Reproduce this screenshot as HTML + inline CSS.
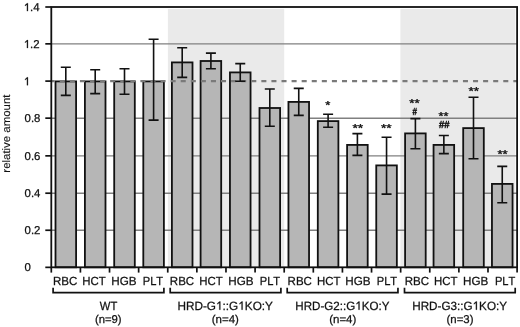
<!DOCTYPE html>
<html><head><meta charset="utf-8"><style>
html,body{margin:0;padding:0;background:#fff;}
svg{display:block;will-change:transform;}
.t{font-family:"Liberation Sans",sans-serif;font-size:11px;fill:#111111;stroke:#111111;stroke-width:0.25px;}
.m{stroke:#111111;stroke-width:0.35px;}
.h{stroke:#111111;stroke-width:0.5px;}
.yt{stroke-width:0.12px;}
.one{fill:#111111;stroke:#111111;stroke-width:0.25px;vector-effect:non-scaling-stroke;}
.o{fill-opacity:0;stroke-opacity:0;}
text{font-kerning:none;text-rendering:geometricPrecision;}
</style></head><body>
<svg width="520" height="327" viewBox="0 0 520 327">
<rect x="0" y="0" width="520" height="327" fill="#fff"/>
<rect x="167.90" y="8.9" width="116.30" height="258.40" fill="#eaeaea"/>
<rect x="400.40" y="8.9" width="115.00" height="258.40" fill="#eaeaea"/>
<line x1="51.30" x2="517.10" y1="230.25" y2="230.25" stroke="#808080" stroke-width="1.45"/>
<line x1="51.30" x2="517.10" y1="193.20" y2="193.20" stroke="#808080" stroke-width="1.45"/>
<line x1="51.30" x2="517.10" y1="155.85" y2="155.85" stroke="#808080" stroke-width="1.45"/>
<line x1="51.30" x2="517.10" y1="118.15" y2="118.15" stroke="#808080" stroke-width="1.45"/>
<line x1="51.30" x2="517.10" y1="43.85" y2="43.85" stroke="#808080" stroke-width="1.45"/>
<rect x="55.50" y="81.40" width="20.60" height="185.90" fill="#b6b6b6" stroke="#111111" stroke-width="1.8"/>
<rect x="84.90" y="81.40" width="20.60" height="185.90" fill="#b6b6b6" stroke="#111111" stroke-width="1.8"/>
<rect x="114.20" y="81.40" width="20.60" height="185.90" fill="#b6b6b6" stroke="#111111" stroke-width="1.8"/>
<rect x="143.30" y="81.40" width="20.60" height="185.90" fill="#b6b6b6" stroke="#111111" stroke-width="1.8"/>
<rect x="171.90" y="62.40" width="20.60" height="204.90" fill="#b6b6b6" stroke="#111111" stroke-width="1.8"/>
<rect x="200.60" y="61.00" width="20.60" height="206.30" fill="#b6b6b6" stroke="#111111" stroke-width="1.8"/>
<rect x="229.95" y="72.40" width="20.60" height="194.90" fill="#b6b6b6" stroke="#111111" stroke-width="1.8"/>
<rect x="259.50" y="108.00" width="20.60" height="159.30" fill="#b6b6b6" stroke="#111111" stroke-width="1.8"/>
<rect x="288.45" y="101.90" width="20.60" height="165.40" fill="#b6b6b6" stroke="#111111" stroke-width="1.8"/>
<rect x="317.80" y="121.10" width="20.60" height="146.20" fill="#b6b6b6" stroke="#111111" stroke-width="1.8"/>
<rect x="347.10" y="144.90" width="20.60" height="122.40" fill="#b6b6b6" stroke="#111111" stroke-width="1.8"/>
<rect x="376.25" y="165.40" width="20.60" height="101.90" fill="#b6b6b6" stroke="#111111" stroke-width="1.8"/>
<rect x="405.10" y="133.40" width="20.60" height="133.90" fill="#b6b6b6" stroke="#111111" stroke-width="1.8"/>
<rect x="433.55" y="144.90" width="20.60" height="122.40" fill="#b6b6b6" stroke="#111111" stroke-width="1.8"/>
<rect x="463.20" y="128.10" width="20.60" height="139.20" fill="#b6b6b6" stroke="#111111" stroke-width="1.8"/>
<rect x="491.95" y="183.90" width="20.60" height="83.40" fill="#b6b6b6" stroke="#111111" stroke-width="1.8"/>
<line x1="51.30" x2="517.10" y1="81.10" y2="81.10" stroke="#7a7a7a" stroke-width="2.3" stroke-dasharray="5.04 5.04" stroke-dashoffset="1.64"/>
<path d="M65.80 67.30V95.40M60.80 67.30H70.80M60.80 95.40H70.80" stroke="#111111" stroke-width="1.6" fill="none"/>
<path d="M95.20 69.70V93.60M90.20 69.70H100.20M90.20 93.60H100.20" stroke="#111111" stroke-width="1.6" fill="none"/>
<path d="M124.50 68.80V94.20M119.50 68.80H129.50M119.50 94.20H129.50" stroke="#111111" stroke-width="1.6" fill="none"/>
<path d="M153.60 39.20V120.10M148.60 39.20H158.60M148.60 120.10H158.60" stroke="#111111" stroke-width="1.6" fill="none"/>
<path d="M182.20 47.80V77.40M177.20 47.80H187.20M177.20 77.40H187.20" stroke="#111111" stroke-width="1.6" fill="none"/>
<path d="M210.90 53.10V68.80M205.90 53.10H215.90M205.90 68.80H215.90" stroke="#111111" stroke-width="1.6" fill="none"/>
<path d="M240.25 63.60V81.30M235.25 63.60H245.25M235.25 81.30H245.25" stroke="#111111" stroke-width="1.6" fill="none"/>
<path d="M269.80 89.00V126.30M264.80 89.00H274.80M264.80 126.30H274.80" stroke="#111111" stroke-width="1.6" fill="none"/>
<path d="M298.75 88.40V115.40M293.75 88.40H303.75M293.75 115.40H303.75" stroke="#111111" stroke-width="1.6" fill="none"/>
<path d="M328.10 114.30V127.20M323.10 114.30H333.10M323.10 127.20H333.10" stroke="#111111" stroke-width="1.6" fill="none"/>
<path d="M357.40 133.60V155.40M352.40 133.60H362.40M352.40 155.40H362.40" stroke="#111111" stroke-width="1.6" fill="none"/>
<path d="M386.55 137.30V194.10M381.55 137.30H391.55M381.55 194.10H391.55" stroke="#111111" stroke-width="1.6" fill="none"/>
<path d="M415.40 118.60V148.80M410.40 118.60H420.40M410.40 148.80H420.40" stroke="#111111" stroke-width="1.6" fill="none"/>
<path d="M443.85 135.50V153.60M438.85 135.50H448.85M438.85 153.60H448.85" stroke="#111111" stroke-width="1.6" fill="none"/>
<path d="M473.50 97.30V158.80M468.50 97.30H478.50M468.50 158.80H478.50" stroke="#111111" stroke-width="1.6" fill="none"/>
<path d="M502.25 166.40V202.70M497.25 166.40H507.25M497.25 202.70H507.25" stroke="#111111" stroke-width="1.6" fill="none"/>
<rect x="51.30" y="7.00" width="465.80" height="260.30" fill="none" stroke="#111111" stroke-width="1.8"/>
<line x1="45.3" x2="51.30" y1="267.35" y2="267.35" stroke="#111111" stroke-width="1.7"/>
<line x1="45.3" x2="51.30" y1="230.25" y2="230.25" stroke="#111111" stroke-width="1.7"/>
<line x1="45.3" x2="51.30" y1="193.20" y2="193.20" stroke="#111111" stroke-width="1.7"/>
<line x1="45.3" x2="51.30" y1="155.85" y2="155.85" stroke="#111111" stroke-width="1.7"/>
<line x1="45.3" x2="51.30" y1="118.15" y2="118.15" stroke="#111111" stroke-width="1.7"/>
<line x1="45.3" x2="51.30" y1="81.10" y2="81.10" stroke="#111111" stroke-width="1.7"/>
<line x1="45.3" x2="51.30" y1="43.85" y2="43.85" stroke="#111111" stroke-width="1.7"/>
<line x1="45.3" x2="51.30" y1="7.00" y2="7.00" stroke="#111111" stroke-width="1.7"/>
<line x1="51.30" x2="51.30" y1="267.30" y2="272.6" stroke="#111111" stroke-width="1.7"/>
<line x1="80.41" x2="80.41" y1="267.30" y2="272.6" stroke="#111111" stroke-width="1.7"/>
<line x1="109.53" x2="109.53" y1="267.30" y2="272.6" stroke="#111111" stroke-width="1.7"/>
<line x1="138.64" x2="138.64" y1="267.30" y2="272.6" stroke="#111111" stroke-width="1.7"/>
<line x1="167.75" x2="167.75" y1="267.30" y2="272.6" stroke="#111111" stroke-width="1.7"/>
<line x1="196.86" x2="196.86" y1="267.30" y2="272.6" stroke="#111111" stroke-width="1.7"/>
<line x1="225.98" x2="225.98" y1="267.30" y2="272.6" stroke="#111111" stroke-width="1.7"/>
<line x1="255.09" x2="255.09" y1="267.30" y2="272.6" stroke="#111111" stroke-width="1.7"/>
<line x1="284.20" x2="284.20" y1="267.30" y2="272.6" stroke="#111111" stroke-width="1.7"/>
<line x1="313.31" x2="313.31" y1="267.30" y2="272.6" stroke="#111111" stroke-width="1.7"/>
<line x1="342.43" x2="342.43" y1="267.30" y2="272.6" stroke="#111111" stroke-width="1.7"/>
<line x1="371.54" x2="371.54" y1="267.30" y2="272.6" stroke="#111111" stroke-width="1.7"/>
<line x1="400.65" x2="400.65" y1="267.30" y2="272.6" stroke="#111111" stroke-width="1.7"/>
<line x1="429.76" x2="429.76" y1="267.30" y2="272.6" stroke="#111111" stroke-width="1.7"/>
<line x1="458.88" x2="458.88" y1="267.30" y2="272.6" stroke="#111111" stroke-width="1.7"/>
<line x1="487.99" x2="487.99" y1="267.30" y2="272.6" stroke="#111111" stroke-width="1.7"/>
<line x1="517.10" x2="517.10" y1="267.30" y2="272.6" stroke="#111111" stroke-width="1.7"/>
<text class="t" transform="translate(24.55,271.47) scale(1.0000,1)" style="font-size:11.4px">0</text>
<text class="t" transform="translate(24.55,234.37) scale(1.0000,1)" style="font-size:11.4px">0.2</text>
<text class="t" transform="translate(24.55,197.32) scale(1.0000,1)" style="font-size:11.4px">0.4</text>
<text class="t" transform="translate(24.55,159.97) scale(1.0000,1)" style="font-size:11.4px">0.6</text>
<text class="t" transform="translate(24.55,122.27) scale(1.0000,1)" style="font-size:11.4px">0.8</text>
<text class="t" transform="translate(23.76,85.22) scale(1.0000,1)" style="font-size:11.4px"><tspan class="o">1</tspan></text><path class="one" transform="translate(23.76,85.22) scale(1.0000,1) translate(0.000,0) scale(0.00557,-0.00557)" d="M750 0H570V1140L222 920V1090L600 1409H750Z"/>
<text class="t" transform="translate(23.76,47.97) scale(1.0000,1)" style="font-size:11.4px"><tspan class="o">1</tspan>.2</text><path class="one" transform="translate(23.76,47.97) scale(1.0000,1) translate(0.000,0) scale(0.00557,-0.00557)" d="M750 0H570V1140L222 920V1090L600 1409H750Z"/>
<text class="t" transform="translate(23.76,11.12) scale(1.0000,1)" style="font-size:11.4px"><tspan class="o">1</tspan>.4</text><path class="one" transform="translate(23.76,11.12) scale(1.0000,1) translate(0.000,0) scale(0.00557,-0.00557)" d="M750 0H570V1140L222 920V1090L600 1409H750Z"/>
<text class="t yt" transform="translate(9.80,172.66) rotate(-90) scale(1.0486,1)" style="font-size:10.9px">relative amount</text>
<text class="t" transform="translate(53.00,285.30) scale(0.9789,1)" style="font-size:11.8px">RBC</text>
<text class="t" transform="translate(82.21,285.30) scale(0.9690,1)" style="font-size:11.8px">HCT</text>
<text class="t" transform="translate(111.24,285.30) scale(0.9883,1)" style="font-size:11.8px">HGB</text>
<text class="t" transform="translate(142.74,285.30) scale(0.9411,1)" style="font-size:11.8px">PLT</text>
<text class="t" transform="translate(169.80,285.30) scale(0.9789,1)" style="font-size:11.8px">RBC</text>
<text class="t" transform="translate(199.16,285.30) scale(0.9690,1)" style="font-size:11.8px">HCT</text>
<text class="t" transform="translate(228.29,285.30) scale(0.9883,1)" style="font-size:11.8px">HGB</text>
<text class="t" transform="translate(259.74,285.30) scale(0.9411,1)" style="font-size:11.8px">PLT</text>
<text class="t" transform="translate(287.55,285.30) scale(0.9789,1)" style="font-size:11.8px">RBC</text>
<text class="t" transform="translate(317.01,285.30) scale(0.9690,1)" style="font-size:11.8px">HCT</text>
<text class="t" transform="translate(345.29,285.30) scale(0.9883,1)" style="font-size:11.8px">HGB</text>
<text class="t" transform="translate(376.74,285.30) scale(0.9411,1)" style="font-size:11.8px">PLT</text>
<text class="t" transform="translate(404.75,285.30) scale(0.9789,1)" style="font-size:11.8px">RBC</text>
<text class="t" transform="translate(434.01,285.30) scale(0.9690,1)" style="font-size:11.8px">HCT</text>
<text class="t" transform="translate(463.09,285.30) scale(0.9883,1)" style="font-size:11.8px">HGB</text>
<text class="t" transform="translate(494.94,285.30) scale(0.9411,1)" style="font-size:11.8px">PLT</text>
<path d="M53.10 287.8V292.6H163.90V287.8" stroke="#111111" stroke-width="1.7" fill="none"/>
<path d="M170.20 287.8V292.6H280.90V287.8" stroke="#111111" stroke-width="1.7" fill="none"/>
<path d="M287.20 287.8V292.6H397.95V287.8" stroke="#111111" stroke-width="1.7" fill="none"/>
<path d="M404.50 287.8V292.6H515.20V287.8" stroke="#111111" stroke-width="1.7" fill="none"/>
<text class="t" transform="translate(99.85,309.70) scale(0.9463,1)" style="font-size:11.9px">WT</text>
<text class="t" transform="translate(177.48,309.70) scale(0.9889,1)" style="font-size:11.9px">HRD-G<tspan class="o">1</tspan>::G<tspan class="o">1</tspan>KO:Y</text><path class="one" transform="translate(177.48,309.70) scale(0.9889,1) translate(39.000,0) scale(0.00581,-0.00581)" d="M750 0H570V1140L222 920V1090L600 1409H750Z"/><path class="one" transform="translate(177.48,309.70) scale(0.9889,1) translate(61.487,0) scale(0.00581,-0.00581)" d="M750 0H570V1140L222 920V1090L600 1409H750Z"/>
<text class="t" transform="translate(295.35,309.70) scale(0.9748,1)" style="font-size:11.9px">HRD-G2::G<tspan class="o">1</tspan>KO:Y</text><path class="one" transform="translate(295.35,309.70) scale(0.9748,1) translate(61.487,0) scale(0.00581,-0.00581)" d="M750 0H570V1140L222 920V1090L600 1409H750Z"/>
<text class="t" transform="translate(412.24,309.70) scale(0.9821,1)" style="font-size:11.9px">HRD-G3::G<tspan class="o">1</tspan>KO:Y</text><path class="one" transform="translate(412.24,309.70) scale(0.9821,1) translate(61.487,0) scale(0.00581,-0.00581)" d="M750 0H570V1140L222 920V1090L600 1409H750Z"/>
<text class="t" transform="translate(94.90,323.20) scale(1.0003,1)" style="font-size:11.3px">(n=9)</text>
<text class="t" transform="translate(211.79,323.20) scale(1.0161,1)" style="font-size:11.3px">(n=4)</text>
<text class="t" transform="translate(329.19,323.20) scale(1.0161,1)" style="font-size:11.3px">(n=4)</text>
<text class="t" transform="translate(446.49,323.20) scale(1.0122,1)" style="font-size:11.3px">(n=3)</text>
<text class="t m" transform="translate(325.29,108.59) scale(1.1435,1)" style="font-size:11.5px">*</text>
<text class="t m" transform="translate(352.38,131.89) scale(1.1997,1)" style="font-size:11.5px">**</text>
<text class="t m" transform="translate(380.98,131.89) scale(1.1880,1)" style="font-size:11.5px">**</text>
<text class="t m" transform="translate(409.18,107.09) scale(1.1647,1)" style="font-size:11.5px">**</text>
<text class="t m" transform="translate(438.59,119.99) scale(1.1065,1)" style="font-size:11.5px">**</text>
<text class="t m" transform="translate(468.43,95.34) scale(1.1706,1)" style="font-size:11.5px">**</text>
<text class="t m" transform="translate(497.39,157.94) scale(1.1414,1)" style="font-size:11.5px">**</text>
<text class="t h" transform="translate(412.56,115.19) scale(0.7888,1)" style="font-size:10.2px">#</text>
<text class="t h" transform="translate(439.01,128.24) scale(0.9199,1)" style="font-size:10.2px">##</text>
</svg>
</body></html>
